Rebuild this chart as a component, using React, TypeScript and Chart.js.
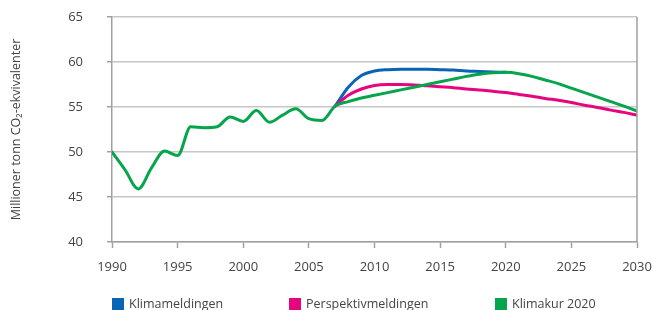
import React, { useEffect, useRef } from 'react';
import { Chart, registerables } from 'chart.js';

Chart.register(...registerables);

// Historical emissions (common to all series), 1990-2007
const historyYears = [1990, 1991, 1992, 1993, 1994, 1995, 1996, 1997, 1998, 1999, 2000, 2001, 2002, 2003, 2004, 2005, 2006, 2007];
const historyValues = [50.0, 48.0, 45.9, 48.2, 50.1, 49.6, 52.8, 52.7, 52.8, 53.9, 53.4, 54.6, 53.3, 54.1, 54.8, 53.7, 53.5, 55.1];

// Projections
const klimameldingenYears = [2007, 2008, 2009, 2010, 2011, 2012, 2013, 2014, 2015, 2016, 2017, 2018, 2019, 2020];
const klimameldingenValues = [55.1, 57.2, 58.5, 59.0, 59.15, 59.2, 59.2, 59.2, 59.15, 59.1, 59.0, 58.95, 58.9, 58.85];

const perspektivYears = [2007, 2008, 2009, 2010, 2011, 2012, 2013, 2014, 2015, 2016, 2017, 2018, 2019, 2020, 2021, 2022, 2023, 2024, 2025, 2026, 2027, 2028, 2029, 2030];
const perspektivValues = [55.1, 56.3, 57.0, 57.4, 57.5, 57.5, 57.45, 57.35, 57.25, 57.15, 57.0, 56.9, 56.75, 56.6, 56.4, 56.2, 55.95, 55.75, 55.5, 55.2, 54.95, 54.65, 54.4, 54.1];

const klimakurYears = [2008, 2009, 2010, 2011, 2012, 2013, 2014, 2015, 2016, 2017, 2018, 2019, 2020, 2021, 2022, 2023, 2024, 2025, 2026, 2027, 2028, 2029, 2030];
const klimakurValues = [55.6, 56.0, 56.3, 56.6, 56.9, 57.2, 57.5, 57.8, 58.1, 58.4, 58.65, 58.8, 58.85, 58.7, 58.4, 58.0, 57.6, 57.1, 56.6, 56.1, 55.6, 55.1, 54.55];

const seriesLabels = ['Klimameldingen', 'Perspektivmeldingen', 'Klimakur 2020'];
const seriesColors = ['#0a64b4', '#e6057f', '#05a54b'];

const xMin = 1990;
const xMax = 2030;
const xStep = 5;
const yMin = 40;
const yMax = 65;
const yStep = 5;
const yTitle = 'Millioner tonn CO\u2082-ekvivalenter';

const toPoints = (xs: number[], ys: number[]) => xs.map((x, i) => ({ x, y: ys[i] }));

const FONT = '"Open Sans", "DejaVu Sans", sans-serif';
const TEXT = '#444444';

const rightBorder = {
  id: 'rightBorder',
  afterDatasetsDraw(chart: any) {
    const { ctx, chartArea } = chart;
    ctx.save();
    ctx.strokeStyle = '#a0a0a0';
    ctx.lineWidth = 1.5;
    ctx.beginPath();
    ctx.moveTo(chartArea.right, chartArea.top);
    ctx.lineTo(chartArea.right, chartArea.bottom);
    ctx.stroke();
    ctx.restore();
  },
};

export default function App() {
  const ref = useRef<HTMLCanvasElement | null>(null);

  useEffect(() => {
    if (!ref.current) return;
    const chart = new Chart(ref.current, {
      type: 'line',
      data: {
        datasets: [
          {
            label: seriesLabels[0],
            data: toPoints(klimameldingenYears, klimameldingenValues),
            borderColor: seriesColors[0],
            backgroundColor: seriesColors[0],
            order: 2,
          },
          {
            label: seriesLabels[1],
            data: toPoints(perspektivYears, perspektivValues),
            borderColor: seriesColors[1],
            backgroundColor: seriesColors[1],
            order: 1,
          },
          {
            label: seriesLabels[2],
            data: toPoints([...historyYears, ...klimakurYears], [...historyValues, ...klimakurValues]),
            borderColor: seriesColors[2],
            backgroundColor: seriesColors[2],
            order: 0,
          },
        ],
      },
      options: {
        animation: false,
        responsive: false,
        maintainAspectRatio: false,
        devicePixelRatio: 1,
        layout: { padding: { left: 0, right: 16, top: 17, bottom: 0 } },
        elements: {
          line: { borderWidth: 3, tension: 0.4, cubicInterpolationMode: 'monotone', borderCapStyle: 'round', borderJoinStyle: 'round' },
          point: { radius: 0, hoverRadius: 0 },
        },
        plugins: {
          legend: { display: false },
          tooltip: { enabled: false },
        },
        scales: {
          x: {
            type: 'linear',
            min: xMin,
            max: xMax,
            afterFit: (scale: any) => {
              scale.height = 68;
              scale.paddingLeft = 0;
              scale.paddingRight = 0;
              scale.paddingTop = 0;
              scale.paddingBottom = 0;
            },
            ticks: {
              stepSize: xStep,
              padding: 11,
              color: TEXT,
              font: { family: FONT, size: 13 },
              maxRotation: 0,
              callback: (v: any) => String(v),
            },
            grid: {
              drawOnChartArea: false,
              drawTicks: true,
              tickLength: 6,
              tickColor: '#a0a0a0',
              tickWidth: 1.5,
            },
            border: { color: '#a0a0a0', width: 1.5 },
          },
          y: {
            min: yMin,
            max: yMax,
            afterFit: (scale: any) => {
              scale.width = 112;
              scale.paddingLeft = 0;
              scale.paddingRight = 0;
              scale.paddingTop = 0;
              scale.paddingBottom = 0;
            },
            ticks: {
              stepSize: yStep,
              padding: 24,
              color: TEXT,
              font: { family: FONT, size: 13 },
            },
            grid: {
              color: '#c6c6c6',
              lineWidth: 1.5,
              tickLength: 5,
              tickColor: '#a0a0a0',
              tickWidth: 1.5,
            },
            border: { color: '#a0a0a0', width: 1.5 },
            title: {
              display: true,
              text: yTitle,
              color: TEXT,
              font: { family: FONT, size: 12.5 },
              padding: { top: 9, bottom: 0 },
            },
          },
        },
      },
      plugins: [rightBorder],
    } as any);
    return () => chart.destroy();
  }, []);

  const legendLeft = [112, 289, 495];

  return (
    <div style={{ position: 'fixed', left: 0, top: 0, width: 653, height: 310, background: '#fff', overflow: 'hidden' }}>
      <canvas ref={ref} width={653} height={310} style={{ display: 'block', width: 653, height: 310 }} />
      {seriesLabels.map((label, i) => (
        <div
          key={label}
          style={{
            position: 'absolute',
            left: legendLeft[i],
            top: 297,
            display: 'flex',
            alignItems: 'center',
            fontFamily: FONT,
            fontSize: 12.5,
            color: TEXT,
            lineHeight: '13px',
          }}
        >
          <span style={{ display: 'inline-block', width: 12, height: 12, background: seriesColors[i], marginRight: 5 }} />
          <span>{label}</span>
        </div>
      ))}
    </div>
  );
}
